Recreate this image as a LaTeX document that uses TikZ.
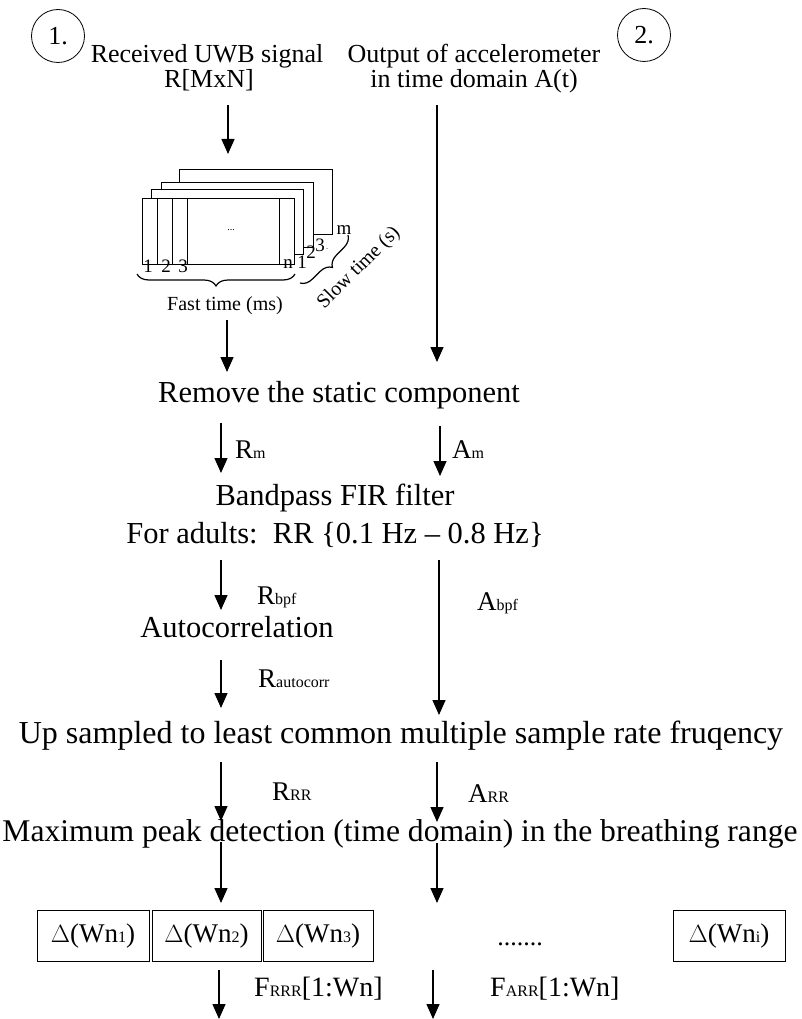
\documentclass[tikz,border=0pt]{standalone}
\usepackage{fontspec}
\setmainfont{Liberation Serif}
\usetikzlibrary{arrows.meta,decorations.pathreplacing}
\newcommand\smtxt[1]{{\fontsize{16}{16}\selectfont #1}}
\begin{document}
\begin{tikzpicture}[x=1pt,y=-1pt,
  arr/.style={line width=1.4pt,-{Triangle[width=13pt,length=15pt]}},
  hd/.style={font=\fontsize{26}{27}\selectfont, inner sep=0pt, anchor=base},
  bg/.style={font=\fontsize{30.5}{32}\selectfont, inner sep=0pt, anchor=base},
  lbl/.style={font=\fontsize{27}{28}\selectfont, inner sep=0pt, anchor=base west},
  num/.style={circle, draw, line width=0.8pt, minimum size=53pt, inner sep=0pt, font=\fontsize{26}{27}\selectfont},
  frm/.style={draw, fill=white, line width=0.8pt},
  wbox/.style={draw, line width=0.8pt, minimum height=51pt, inner sep=0pt, font=\fontsize{27}{28}\selectfont},
  dig/.style={font=\fontsize{19}{19}\selectfont, inner sep=0pt},
  brc/.style={decorate, decoration={brace, mirror, amplitude=12pt}, line width=1.2pt}]
\useasboundingbox (0,0) rectangle (802,1019);
% circles
\node[num] (c1) at (58,36) {1.};
\node[num] (c2) at (644,35) {2.};
% headings
\node[hd] (recv1) at (207,63) {Received UWB signal};
\node[hd] (recv2) at (209,88) {R[MxN]};
\node[hd] (acc1) at (474,63) {Output of accelerometer};
\node[hd] (acc2) at (474,88) {in time domain A(t)};
% frames
\draw[frm] (179,169) rectangle (332,234);
\draw[frm] (161,182) rectangle (313,247);
\draw[frm] (151,189) rectangle (303,254);
\draw[frm] (142,198) rectangle (294,264);
\draw[line width=0.8pt] (157,198) -- (157,264) (172,198) -- (172,264) (187,198) -- (187,264) (279,198) -- (279,264);
\node[font=\fontsize{10}{10}\selectfont, inner sep=0pt] (dots0) at (231,230) {...};
\node[dig] (d1) at (148,266) {1};
\node[dig] (d2) at (166,266) {2};
\node[dig] (d3) at (183,266) {3};
\node[dig] (dn) at (288,264) {n};
\node[dig] (s1) at (302,262) {1};
\node[dig] (s2) at (311,252) {2};
\node[dig] (s3) at (320,245) {3};
\node[font=\fontsize{8}{8}\selectfont, inner sep=0pt] (s3d) at (327,249) {.};
\node[dig] (sm) at (344,230) {m};
\coordinate (fb1) at (137,274);
\coordinate (fb2) at (295,274);
\draw[brc] (fb1) -- (fb2);
\node[font=\fontsize{20}{20}\selectfont, inner sep=0pt] (fast) at (225,306) {Fast time (ms)};
\coordinate (sb1) at (300,283);
\coordinate (sb2) at (348,235);
\draw[brc] (sb1) -- (sb2);
\node[font=\fontsize{20}{20}\selectfont, inner sep=0pt, rotate=45] (slow) at (359,268) {Slow time (s)};
% main steps
\node[bg] (remove) at (339,402) {Remove the static component};
\node[bg] (bp1) at (335,505) {Bandpass FIR filter};
\node[bg] (bp2) at (335,543) {For adults:\ \ RR \{0.1 Hz -- 0.8 Hz\}};
\node[bg] (auto) at (237,637) {Autocorrelation};
\node[bg, font=\fontsize{32}{34}\selectfont] (up) at (401,743) {Up sampled to least common multiple sample rate fruqency};
\node[bg, font=\fontsize{31.6}{34}\selectfont] (peak) at (400,841) {Maximum peak detection (time domain) in the breathing range};
% arrow labels
\node[lbl] (lRm) at (235,458) {R\smtxt{m}};
\node[lbl] (lAm) at (452,458) {A\smtxt{m}};
\node[lbl] (lRb) at (257,604) {R\smtxt{bpf}};
\node[lbl] (lAb) at (477,610) {A\smtxt{bpf}};
\node[lbl] (lRa) at (258,687) {R\smtxt{autocorr}};
\node[lbl] (lRR) at (272,800) {R\smtxt{RR}};
\node[lbl] (lAR) at (468,802) {A\smtxt{RR}};
\node[lbl, font=\fontsize{28}{29}\selectfont] (lFR) at (254,996) {F\smtxt{RRR}[1:Wn]};
\node[lbl, font=\fontsize{28}{29}\selectfont] (lFA) at (490,996) {F\smtxt{ARR}[1:Wn]};
% window boxes
\node[wbox, minimum width=112pt] (b1) at (93,935.5) {$\Delta$(Wn\smtxt{1})};
\node[wbox, minimum width=109pt] (b2) at (206.5,935.5) {$\Delta$(Wn\smtxt{2})};
\node[wbox, minimum width=110pt] (b3) at (318,935.5) {$\Delta$(Wn\smtxt{3})};
\node[font=\fontsize{26}{27}\selectfont, inner sep=0pt, anchor=base] (dots) at (520,945) {.......};
\node[wbox, minimum width=112pt] (bi) at (729,935.5) {$\Delta$(Wn\smtxt{i})};
% arrows
\coordinate (a1s) at (228,105); \coordinate (a1e) at (228,154);
\coordinate (a2s) at (437,105); \coordinate (a2e) at (437,362);
\coordinate (a3s) at (227,320); \coordinate (a3e) at (227,372);
\coordinate (a4s) at (221,423); \coordinate (a4e) at (221,473);
\coordinate (a5s) at (440,426); \coordinate (a5e) at (440,476);
\coordinate (a6s) at (221,560); \coordinate (a6e) at (221,610);
\coordinate (a7s) at (439,560); \coordinate (a7e) at (439,715);
\coordinate (a8s) at (221,660); \coordinate (a8e) at (221,708);
\coordinate (a9s) at (221,762); \coordinate (a9e) at (221,821);
\coordinate (a10s) at (437,762); \coordinate (a10e) at (437,822);
\coordinate (a11s) at (221,842); \coordinate (a11e) at (221,903);
\coordinate (a12s) at (437,843); \coordinate (a12e) at (437,903);
\coordinate (a13s) at (219,970); \coordinate (a13e) at (219,1019);
\coordinate (a14s) at (433,970); \coordinate (a14e) at (433,1019);
\foreach \i in {1,...,14} {\draw[arr] (a\i s) -- (a\i e);}
\end{tikzpicture}
\end{document}
